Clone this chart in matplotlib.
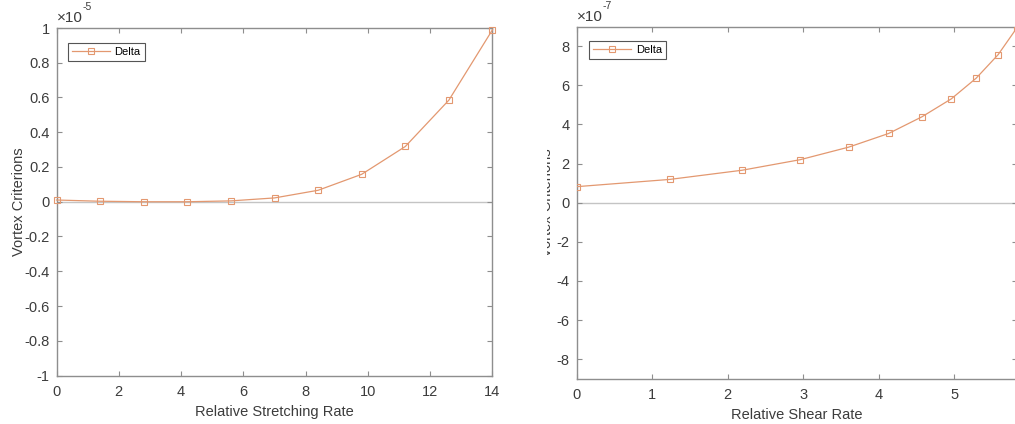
import matplotlib
matplotlib.use("Agg")
import matplotlib.pyplot as plt
from matplotlib.patches import Rectangle
from matplotlib.ticker import FuncFormatter

plt.rcParams['font.family'] = ['Liberation Sans', 'DejaVu Sans']
plt.rcParams['axes.unicode_minus'] = False

# ---- data ----
# Left: Delta vs relative stretching rate, values in units of 1e-5
stretch_rate = [0.0, 1.4, 2.8, 4.2, 5.6, 7.0, 8.4, 9.8, 11.2, 12.6, 14.0]
delta_stretch_e5 = [0.010, 0.003, 0.000, 0.000, 0.005, 0.022, 0.066, 0.158, 0.318, 0.585, 0.990]

# Right: Delta vs relative shear rate, values in units of 1e-7
shear_rate = [0.0, 1.23, 2.19, 2.96, 3.60, 4.13, 4.57, 4.96, 5.29, 5.58, 5.83]
delta_shear_e7 = [0.82, 1.19, 1.66, 2.20, 2.84, 3.54, 4.39, 5.31, 6.37, 7.57, 8.95]

left_xticks = [0, 2, 4, 6, 8, 10, 12, 14]
left_yticks = [-1, -0.8, -0.6, -0.4, -0.2, 0, 0.2, 0.4, 0.6, 0.8, 1]
right_xticks = [0, 1, 2, 3, 4, 5]
right_yticks = [-8, -6, -4, -2, 0, 2, 4, 6, 8]

series_label = "Delta"
ylabel_text = "Vortex Criterions"

W, H = 1015, 424
fig = plt.figure(figsize=(W / 100, H / 100), dpi=100)
fig.patch.set_facecolor('white')

line_color = '#E39870'
spine_color = '#8E8E8E'
text_color = '#3C3C3C'
zero_color = '#C4C4C4'


def px_rect(x0, x1, ytop, ybot):
    return [x0 / W, 1 - ybot / H, (x1 - x0) / W, (ybot - ytop) / H]


def fmt(v, pos):
    return ('%g' % v)


def style_axes(ax):
    for s in ax.spines.values():
        s.set_color(spine_color)
        s.set_linewidth(1.0)
    ax.tick_params(direction='in', length=3.5, width=0.8, colors=spine_color,
                   labelcolor=text_color, labelsize=10.5, top=True, right=True)
    ax.tick_params(axis='x', pad=7)
    ax.tick_params(axis='y', pad=5)
    ax.yaxis.set_major_formatter(FuncFormatter(fmt))
    ax.xaxis.set_major_formatter(FuncFormatter(fmt))


def draw(ax, x, y, xlim, ylim, xticks, yticks, xlabel, exp, leg_anchor, ylab_x):
    ax.axhline(0, color=zero_color, lw=1.0, zorder=1)
    ax.plot(x, y, color=line_color, lw=0.9, marker='s', markersize=5,
            markerfacecolor='none', markeredgecolor=line_color,
            markeredgewidth=0.8, label=series_label, zorder=3, clip_on=False)
    ax.set_xlim(*xlim)
    ax.set_ylim(*ylim)
    ax.set_xticks(xticks)
    ax.set_yticks(yticks)
    style_axes(ax)
    ax.set_xlabel(xlabel, fontsize=10.5, color=text_color, labelpad=4)
    ax.set_ylabel(ylabel_text, fontsize=10.5, color=text_color)
    ax.yaxis.set_label_coords(ylab_x, 0.5)
    leg = ax.legend(loc='upper left', bbox_to_anchor=leg_anchor,
                    borderaxespad=0, fontsize=8, handlelength=3.4,
                    handletextpad=0.45, borderpad=0.35, fancybox=False,
                    framealpha=1, edgecolor='#555555')
    leg.get_frame().set_linewidth(0.8)
    ax.text(0.0, 1.008, '\u00d710', transform=ax.transAxes, fontsize=11,
            color=text_color, ha='left', va='bottom')
    ax.text(26 / ax.bbox.width * 1.0, 1.045, exp, transform=ax.transAxes,
            fontsize=7.5, color=text_color, ha='left', va='bottom')


ax1 = fig.add_axes(px_rect(56.5, 492.5, 28, 375.5))
fig.canvas.draw()
draw(ax1, stretch_rate, delta_stretch_e5, (0, 14), (-1, 1), left_xticks,
     left_yticks, "Relative Stretching Rate", '-5', (0.026, 0.957), -0.07)

ax2 = fig.add_axes(px_rect(576.7, 1017, 26.7, 378.7))
draw(ax2, shear_rate, delta_shear_e7, (0, 5.83), (-9, 9), right_xticks,
     right_yticks, "Relative Shear Rate", '-7', (0.028, 0.959), -0.051)
ax2.lines[-1].set_clip_on(True)

# the right panel's y label is cut at its left side in the reference
fig.patches.append(Rectangle((503 / W, 0), (546.5 - 503) / W, 1,
                             transform=fig.transFigure, facecolor='white',
                             edgecolor='none', zorder=10))

fig.savefig('out.png', dpi=100, facecolor='white')
